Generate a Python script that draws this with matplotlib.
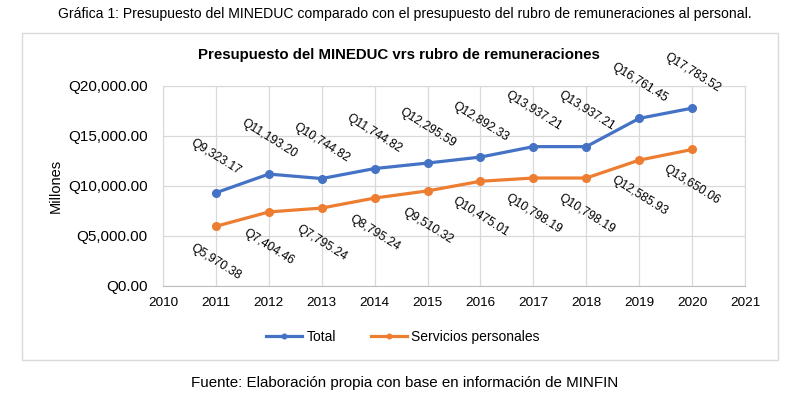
import matplotlib
matplotlib.use("Agg")
import matplotlib.pyplot as plt
from matplotlib.patches import Rectangle

plt.rcParams['font.family'] = ['Liberation Sans', 'DejaVu Sans']

years = [2011, 2012, 2013, 2014, 2015, 2016, 2017, 2018, 2019, 2020]
total = [9323.17, 11193.20, 10744.82, 11744.82, 12295.59, 12892.33,
         13937.21, 13937.21, 16761.45, 17783.52]
servicios = [5970.38, 7404.46, 7795.24, 8795.24, 9510.32, 10475.01,
             10798.19, 10798.19, 12585.93, 13650.06]
yticks = [0, 5000, 10000, 15000, 20000]
xticks = list(range(2010, 2022))

azul = '#4472C4'
naranja = '#ED7D31'
gris = '#D9D9D9'

fig = plt.figure(figsize=(8.09, 3.99), dpi=100)
ax = fig.add_axes([163/809, 1-286/399, (745-163)/809, (286-86)/399])

ax.plot(years, total, color=azul, lw=2.3, marker='o', ms=5.5, label='Total')
ax.plot(years, servicios, color=naranja, lw=2.3, marker='o', ms=5.5,
        label='Servicios personales')

for x, y in zip(years, total):
    ax.annotate('Q{:,.2f}'.format(y), (x, y), xytext=(0, 25.5),
                textcoords='offset points', ha='center', va='center',
                rotation=-32, fontsize=8.8, rotation_mode='anchor')
for x, y in zip(years, servicios):
    ax.annotate('Q{:,.2f}'.format(y), (x, y), xytext=(0, -25.5),
                textcoords='offset points', ha='center', va='center',
                rotation=-32, fontsize=8.8, rotation_mode='anchor')

ax.set_xlim(2010, 2021)
ax.set_ylim(0, 20000)
ax.set_xticks(xticks)
ax.set_yticks(yticks)
ax.set_yticklabels(['Q{:,.2f}'.format(v) for v in yticks], fontsize=11)
ax.tick_params(axis='x', labelsize=9.7, length=0, pad=8)
ax.tick_params(axis='y', length=0, pad=11)
ax.grid(True, color=gris, lw=0.9)
ax.set_axisbelow(True)
for s in ax.spines.values():
    s.set_color(gris)
ax.spines['bottom'].set_color('#BFBFBF')
ax.set_ylabel('Millones', fontsize=10.5, labelpad=4)

fig.text(0.493, 1-55/399, 'Presupuesto del MINEDUC vrs rubro de remuneraciones',
         ha='center', va='center', fontsize=10.8, fontweight='bold')
fig.text(0.5, 1-14/399, 'Gráfica 1: Presupuesto del MINEDUC comparado con el presupuesto del rubro de remuneraciones al personal.',
         ha='center', va='center', fontsize=10.1)
fig.text(0.5, 1-383/399, 'Fuente: Elaboración propia con base en información de MINFIN',
         ha='center', va='center', fontsize=10.9)

fig.legend(loc='center', bbox_to_anchor=(403/809, 1-337/399), ncol=2,
           frameon=False, fontsize=10, handlelength=2.6, columnspacing=2.5,
           handletextpad=0.3, markerscale=0.6)

fig.patches.append(Rectangle((22/809, 1-360/399), (778-22)/809, (360-33)/399,
                             transform=fig.transFigure, fill=False,
                             edgecolor=gris, lw=1))

fig.savefig('out.png', dpi=100)
